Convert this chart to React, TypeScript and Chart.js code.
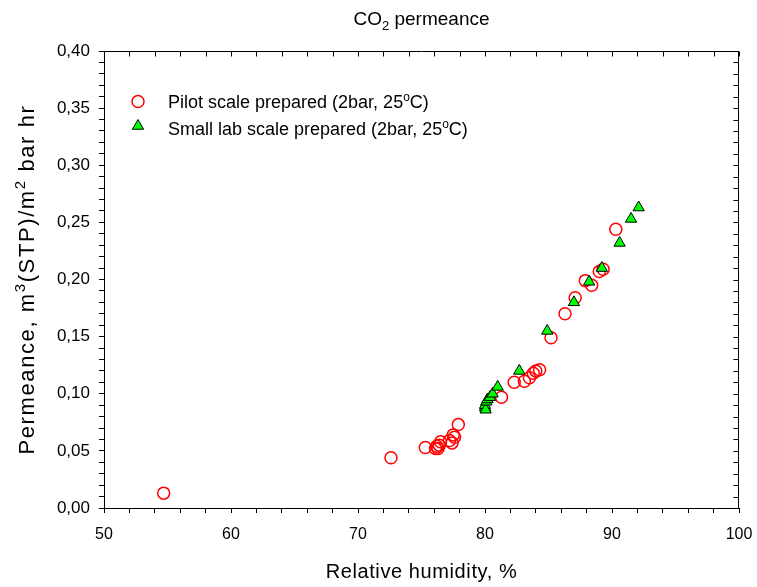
import React, { useEffect, useRef } from 'react';
import { Chart, registerables } from 'chart.js';

Chart.register(...registerables);

// ---- Data ----
const pilotHumidity = [54.7, 72.6, 75.3, 76.1, 76.2, 76.3, 76.4, 76.5, 77.2, 77.4, 77.5, 77.6, 77.9, 81.3, 82.3, 83.1, 83.5, 83.8, 84.0, 84.3, 85.2, 86.3, 87.1, 87.9, 88.4, 89.0, 89.3, 90.3];
const pilotPermeance = [0.013, 0.044, 0.053, 0.052, 0.054, 0.052, 0.055, 0.058, 0.059, 0.057, 0.064, 0.062, 0.073, 0.097, 0.110, 0.111, 0.114, 0.118, 0.120, 0.121, 0.149, 0.170, 0.184, 0.199, 0.195, 0.207, 0.209, 0.244];

const labHumidity = [80.0, 80.0, 80.05, 80.1, 80.2, 80.4, 80.6, 81.0, 82.7, 84.9, 87.0, 88.2, 89.2, 90.6, 91.5, 92.1];
const labPermeance = [0.088, 0.090, 0.086, 0.093, 0.095, 0.097, 0.100, 0.106, 0.120, 0.155, 0.180, 0.198, 0.210, 0.232, 0.253, 0.263];

const xTickLabels = ['50', '60', '70', '80', '90', '100'];
const yTickLabels = ['0,00', '0,05', '0,10', '0,15', '0,20', '0,25', '0,30', '0,35', '0,40'];

const pilotLabel = 'Pilot scale prepared (2bar, 25';
const labLabel = 'Small lab scale prepared (2bar, 25';

const FONT = '"Liberation Sans", Arial, Helvetica, sans-serif';

type Seg = { t: string; s?: 'sup' | 'sub' };

function drawRich(
  ctx: CanvasRenderingContext2D,
  segs: Seg[],
  x: number,
  y: number,
  size: number,
  align: 'center' | 'left',
  spacing = 0
) {
  (ctx as any).letterSpacing = `${spacing}px`;
  const widths = segs.map((sg) => {
    ctx.font = `${sg.s ? Math.round(size * 0.68) : size}px ${FONT}`;
    return ctx.measureText(sg.t).width;
  });
  const total = widths.reduce((a, b) => a + b, 0);
  let cx = align === 'center' ? x - total / 2 : x;
  ctx.textAlign = 'left';
  ctx.textBaseline = 'alphabetic';
  segs.forEach((sg, i) => {
    ctx.font = `${sg.s ? Math.round(size * 0.68) : size}px ${FONT}`;
    const dy = sg.s === 'sup' ? -size * 0.4 : sg.s === 'sub' ? size * 0.25 : 0;
    ctx.fillText(sg.t, cx, y + dy);
    cx += widths[i];
  });
  (ctx as any).letterSpacing = '0px';
}

const decorPlugin = {
  id: 'decor',
  afterDraw(chart: any) {
    const { ctx, chartArea: a, scales } = chart;
    const xs = scales.x;
    const ys = scales.y;
    ctx.save();
    ctx.strokeStyle = '#000';
    ctx.lineWidth = 1;
    const top = Math.round(a.top) + 0.5;
    const right = Math.round(a.right) - 0.5;
    ctx.beginPath();
    ctx.moveTo(Math.round(a.left), top);
    ctx.lineTo(right + 0.5, top);
    ctx.moveTo(right, Math.round(a.top));
    ctx.lineTo(right, Math.round(a.bottom) + 1);
    for (let v = 50; v <= 100; v += 2) {
      const px = Math.round(xs.getPixelForValue(v)) + 0.5;
      ctx.moveTo(px, top);
      ctx.lineTo(px, top + 5);
    }
    for (let k = 0; k <= 40; k++) {
      const py = Math.round(ys.getPixelForValue(k / 100)) + 0.5;
      ctx.moveTo(right, py);
      ctx.lineTo(right - 5, py);
    }
    ctx.stroke();

    ctx.fillStyle = '#000';
    const cxm = (a.left + a.right) / 2;
    drawRich(ctx, [{ t: 'CO' }, { t: '2', s: 'sub' }, { t: ' permeance' }], cxm, 25, 19, 'center');
    drawRich(ctx, [{ t: 'Relative humidity, %' }], cxm, 578, 20, 'center', 0.6);
    ctx.save();
    ctx.translate(34, (a.top + a.bottom) / 2);
    ctx.rotate(-Math.PI / 2);
    drawRich(
      ctx,
      [{ t: 'Permeance, m' }, { t: '3', s: 'sup' }, { t: '(STP)/m' }, { t: '2', s: 'sup' }, { t: ' bar hr' }],
      0,
      0,
      22,
      'center',
      1.6
    );
    ctx.restore();

    // legend
    const lx = 138;
    ctx.beginPath();
    ctx.arc(lx, 101.5, 6, 0, Math.PI * 2);
    ctx.strokeStyle = '#ff0000';
    ctx.lineWidth = 1.5;
    ctx.stroke();
    const r = 6.5;
    const ty = 126;
    ctx.beginPath();
    for (let i = 0; i < 3; i++) {
      const ang = (i * 2 * Math.PI) / 3;
      const px = lx + Math.sin(ang) * r;
      const py = ty - Math.cos(ang) * r;
      if (i === 0) ctx.moveTo(px, py);
      else ctx.lineTo(px, py);
    }
    ctx.closePath();
    ctx.fillStyle = '#00ff00';
    ctx.fill();
    ctx.strokeStyle = '#000';
    ctx.lineWidth = 1;
    ctx.stroke();
    ctx.fillStyle = '#000';
    drawRich(ctx, [{ t: pilotLabel }, { t: 'o', s: 'sup' }, { t: 'C)' }], 168, 108, 18, 'left');
    drawRich(ctx, [{ t: labLabel }, { t: 'o', s: 'sup' }, { t: 'C)' }], 168, 135, 18, 'left');
    ctx.restore();
  },
};

export default function App() {
  const ref = useRef<HTMLCanvasElement | null>(null);
  useEffect(() => {
    document.body.style.margin = '0';
    const canvas = ref.current;
    if (!canvas) return;
    const pilot = pilotHumidity.map((x, i) => ({ x, y: pilotPermeance[i] }));
    const lab = labHumidity.map((x, i) => ({ x, y: labPermeance[i] }));
    const chart = new Chart(canvas, {
      type: 'scatter',
      data: {
        datasets: [
          {
            label: 'Small lab scale prepared (2bar, 25°C)',
            data: lab,
            order: 0,
            pointStyle: 'triangle',
            pointRadius: 6.5,
            pointBackgroundColor: '#00ff00',
            pointBorderColor: '#000000',
            pointBorderWidth: 1,
            showLine: false,
          },
          {
            label: 'Pilot scale prepared (2bar, 25°C)',
            data: pilot,
            order: 1,
            pointStyle: 'circle',
            pointRadius: 6,
            pointBackgroundColor: 'rgba(0,0,0,0)',
            pointBorderColor: '#ff0000',
            pointBorderWidth: 1.5,
            showLine: false,
          },
        ],
      },
      options: {
        responsive: false,
        animation: false,
        events: [],
        layout: { padding: { top: 51, right: 18, left: 0, bottom: 0 } },
        plugins: {
          legend: { display: false },
          title: { display: false },
          tooltip: { enabled: false },
        },
        scales: {
          x: {
            type: 'linear',
            position: 'bottom',
            min: 50,
            max: 100,
            afterFit: (s: any) => {
              s.height = 79;
              s.paddingLeft = 0;
              s.paddingRight = 0;
            },
            ticks: {
              stepSize: 2,
              autoSkip: false,
              maxRotation: 0,
              padding: 12,
              color: '#000',
              font: { family: FONT, size: 16 },
              callback: (v: any) => {
                const n = Math.round(Number(v));
                return n % 10 === 0 ? xTickLabels[(n - 50) / 10] : '';
              },
            },
            grid: { display: true, drawOnChartArea: false, drawTicks: true, tickLength: 5, color: '#000', lineWidth: 1 },
            border: { display: true, color: '#000', width: 1 },
          },
          y: {
            type: 'linear',
            position: 'left',
            min: 0,
            max: 0.4,
            afterFit: (s: any) => {
              s.width = 104;
              s.paddingTop = 0;
              s.paddingBottom = 0;
            },
            ticks: {
              stepSize: 0.01,
              autoSkip: false,
              padding: 9,
              color: '#000',
              font: { family: FONT, size: 17 },
              callback: (v: any) => {
                const n = Math.round(Number(v) * 100);
                return n % 5 === 0 ? yTickLabels[n / 5] : '';
              },
            },
            grid: { display: true, drawOnChartArea: false, drawTicks: true, tickLength: 5, color: '#000', lineWidth: 1 },
            border: { display: true, color: '#000', width: 1 },
          },
        },
      },
      plugins: [decorPlugin],
    } as any);
    return () => chart.destroy();
  }, []);
  return (
    <div style={{ position: 'absolute', left: 0, top: 0, width: 757, height: 587, background: '#fff' }}>
      <canvas ref={ref} width={757} height={587} style={{ display: 'block', width: 757, height: 587 }} />
    </div>
  );
}
